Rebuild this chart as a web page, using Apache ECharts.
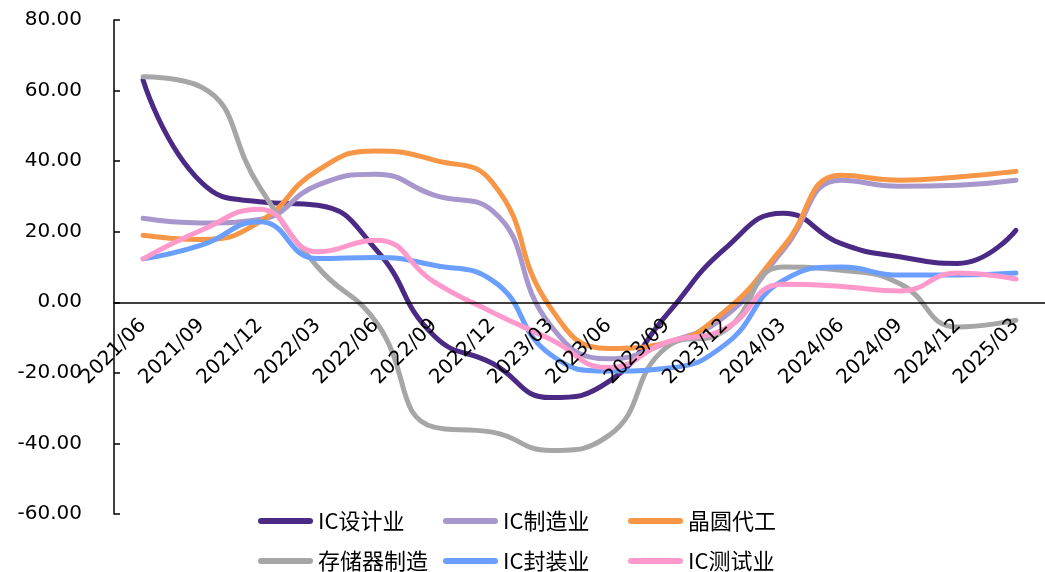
<!DOCTYPE html>
<html>
<head>
<meta charset="utf-8">
<script src="https://cdn.jsdelivr.net/npm/echarts@6/dist/echarts.min.js"></script>
<style>
html,body{margin:0;padding:0;background:#fff;}
#chart{width:1045px;height:572px;}
</style>
</head>
<body>
<div id="chart"></div>
<script>
const categories = ['2021/06','2021/09','2021/12','2022/03','2022/06','2022/09','2022/12','2023/03','2023/06','2023/09','2023/12','2024/03','2024/06','2024/09','2024/12','2025/03'];
const seriesNames = ['IC设计业','IC制造业','晶圆代工','存储器制造','IC封装业','IC测试业'];
const icDesign   = [63.0, 34.0, 28.5, 27.5, 15.0, -9.5, -17.3, -27.0, -22.5, -3.5, 15.2, 25.2, 16.6, 12.9, 11.0, 20.4];
const icManuf    = [23.8, 22.5, 23.5, 33.2, 36.3, 30.4, 26.0, -6.5, -16.0, -11.5, -4.0, 14.8, 34.6, 32.9, 33.2, 34.6];
const foundry    = [19.0, 17.8, 22.8, 37.4, 42.9, 40.3, 34.0, -1.5, -13.1, -11.5, -2.5, 15.7, 36.0, 34.6, 35.5, 37.1];
const memory     = [63.9, 61.0, 32.7, 10.0, -5.5, -35.4, -36.8, -42.0, -37.8, -12.7, -8.0, 10.0, 9.1, 5.3, -7.0, -5.1];
const packaging  = [12.3, 16.2, 22.8, 12.4, 12.7, 10.5, 6.2, -14.8, -19.5, -18.7, -12.0, 6.2, 10.0, 7.7, 7.7, 8.3];
const testing    = [12.3, 20.4, 26.4, 14.3, 17.6, 5.8, -2.8, -10.5, -18.5, -11.3, -7.5, 5.1, 4.5, 3.2, 8.3, 6.6];
const colors = ['#4B2A85','#A797CD','#F79646','#A6A6A6','#6A9EFF','#FF99CC'];

const allData = [icDesign, icManuf, foundry, memory, packaging, testing];
const yMin = -60, yMax = 80;
const gridTop = 20, gridH = 494;
const zeroOffset = -(gridH * (0 - yMin) / (yMax - yMin));
const chart = echarts.init(document.getElementById('chart'));
const option = {
  animation: false,
  backgroundColor: '#fff',
  color: colors,
  grid: {left: 114, top: gridTop, width: 933, height: gridH, containLabel: false},
  legend: {
    data: seriesNames,
    left: 258, top: 507, width: 560, padding: 0,
    itemWidth: 55, itemHeight: 6, itemGap: 12,
    icon: 'path://M3,0L52,0A3,3,0,0,1,52,6L3,6A3,3,0,0,1,3,0Z',
    textStyle: {fontFamily: 'Noto Sans CJK SC', fontSize: 22, color: '#000', width: 113, lineHeight: 28}
  },
  xAxis: {
    type: 'category',
    data: categories,
    boundaryGap: true,
    offset: zeroOffset,
    z: 5,
    axisLine: {onZero: false, lineStyle: {color: '#000', width: 1.5}},
    axisTick: {inside: true, length: 6, lineStyle: {color: '#000', width: 1.5}},
    axisLabel: {rotate: 45, margin: 20, interval: 0, color: '#000', fontFamily: 'DejaVu Sans', fontSize: 20},
    splitLine: {show: false}
  },
  yAxis: {
    type: 'value',
    min: yMin, max: yMax, interval: 20,
    axisLine: {show: true, lineStyle: {color: '#000', width: 1.5}},
    axisTick: {show: true, inside: true, length: 6, lineStyle: {color: '#000', width: 1.5}},
    axisLabel: {margin: 32, color: '#000', fontFamily: 'DejaVu Sans', fontSize: 20,
      formatter: v => v.toFixed(2)},
    splitLine: {show: false}
  },
  series: seriesNames.map((n, i) => ({
    name: n, type: 'line', data: allData[i], smooth: 0.5,
    symbol: 'none',
    lineStyle: {width: 5, color: colors[i], cap: 'round', join: 'round'},
    itemStyle: {color: colors[i]}
  }))
};
chart.setOption(option);
</script>
</body>
</html>
